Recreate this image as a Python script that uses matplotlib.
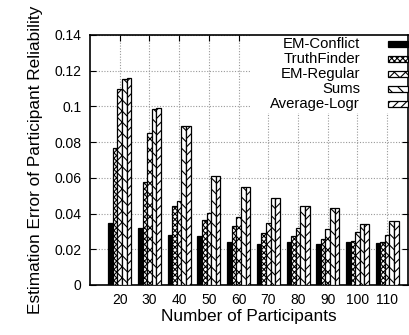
import numpy as np
import matplotlib
matplotlib.use("Agg")
import matplotlib.pyplot as plt
from matplotlib.patches import Rectangle

plt.rcParams['font.family'] = ['Liberation Sans', 'DejaVu Sans']
plt.rcParams['hatch.linewidth'] = 0.8

# --- Data ---
participants = ["20", "30", "40", "50", "60", "70", "80", "90", "100", "110"]
methods = ["EM-Conflict", "TruthFinder", "EM-Regular", "Sums", "Average-Logr"]

em_conflict = [0.035, 0.032, 0.028, 0.0275, 0.024, 0.023, 0.0242, 0.0229, 0.0242, 0.0238]
truthfinder = [0.077, 0.0575, 0.0444, 0.0363, 0.0331, 0.0292, 0.0272, 0.0258, 0.0247, 0.0242]
em_regular = [0.1096, 0.085, 0.0472, 0.0406, 0.0382, 0.035, 0.0318, 0.0315, 0.0298, 0.028]
sums = [0.1155, 0.0988, 0.0892, 0.0608, 0.0548, 0.0486, 0.0443, 0.043, 0.0342, 0.0358]
average_logr = [0.1157, 0.0989, 0.0893, 0.0609, 0.0549, 0.0487, 0.0444, 0.0431, 0.0343, 0.036]

series = [em_conflict, truthfinder, em_regular, sums, average_logr]
hatches = [None, "xxxxxx", "xxx", "\\\\\\", "////"]
faces = ["black", "white", "white", "white", "white"]

fig = plt.figure(figsize=(4.09, 3.35), dpi=100)
ax = fig.add_axes([90 / 409, 1 - 285 / 335, 318 / 409, 250 / 335])

x = np.arange(len(participants))
width = 0.155
for i, vals in enumerate(series):
    ax.bar(x + (i - 2) * width, vals, width,
           facecolor=faces[i], edgecolor="black", hatch=hatches[i],
           linewidth=0.9, zorder=3)

ax.set_xlim(-1, 9.7)
ax.set_ylim(0, 0.14)
ax.set_xticks(x)
ax.set_xticklabels(participants, fontsize=10)
yt = [0, 0.02, 0.04, 0.06, 0.08, 0.1, 0.12, 0.14]
ax.set_yticks(yt)
ax.set_yticklabels(["%g" % v for v in yt], fontsize=10)
ax.tick_params(direction="in", length=4, top=True, right=True, pad=6)

ax.grid(True, linestyle=(0, (1, 1.5)), color="#999999", linewidth=0.8, zorder=0)
ax.set_axisbelow(True)
for s in ax.spines.values():
    s.set_linewidth(1.2)

ax.set_xlabel("Number of Participants", fontsize=12.4, labelpad=1)
ax.set_ylabel("Estimation Error of Participant Reliability", fontsize=12.4, labelpad=8)

# gnuplot-style key: opaque box, right-aligned labels, sample on the right
ax.add_patch(Rectangle((0.503, 0.69), 0.497, 0.31, transform=ax.transAxes,
                       facecolor="white", edgecolor="none", zorder=2))
for k, name in enumerate(methods):
    yc = 0.963 - 0.06 * k
    ax.text(0.849, yc, name, transform=ax.transAxes, ha="right", va="center",
            fontsize=10.7, zorder=5)
    ax.add_patch(Rectangle((0.937, yc - 0.0115), 0.063, 0.023,
                           transform=ax.transAxes, facecolor=faces[k],
                           edgecolor="black", hatch=hatches[k], linewidth=0.9,
                           clip_on=False, zorder=5))

fig.savefig("out.png", dpi=100)
